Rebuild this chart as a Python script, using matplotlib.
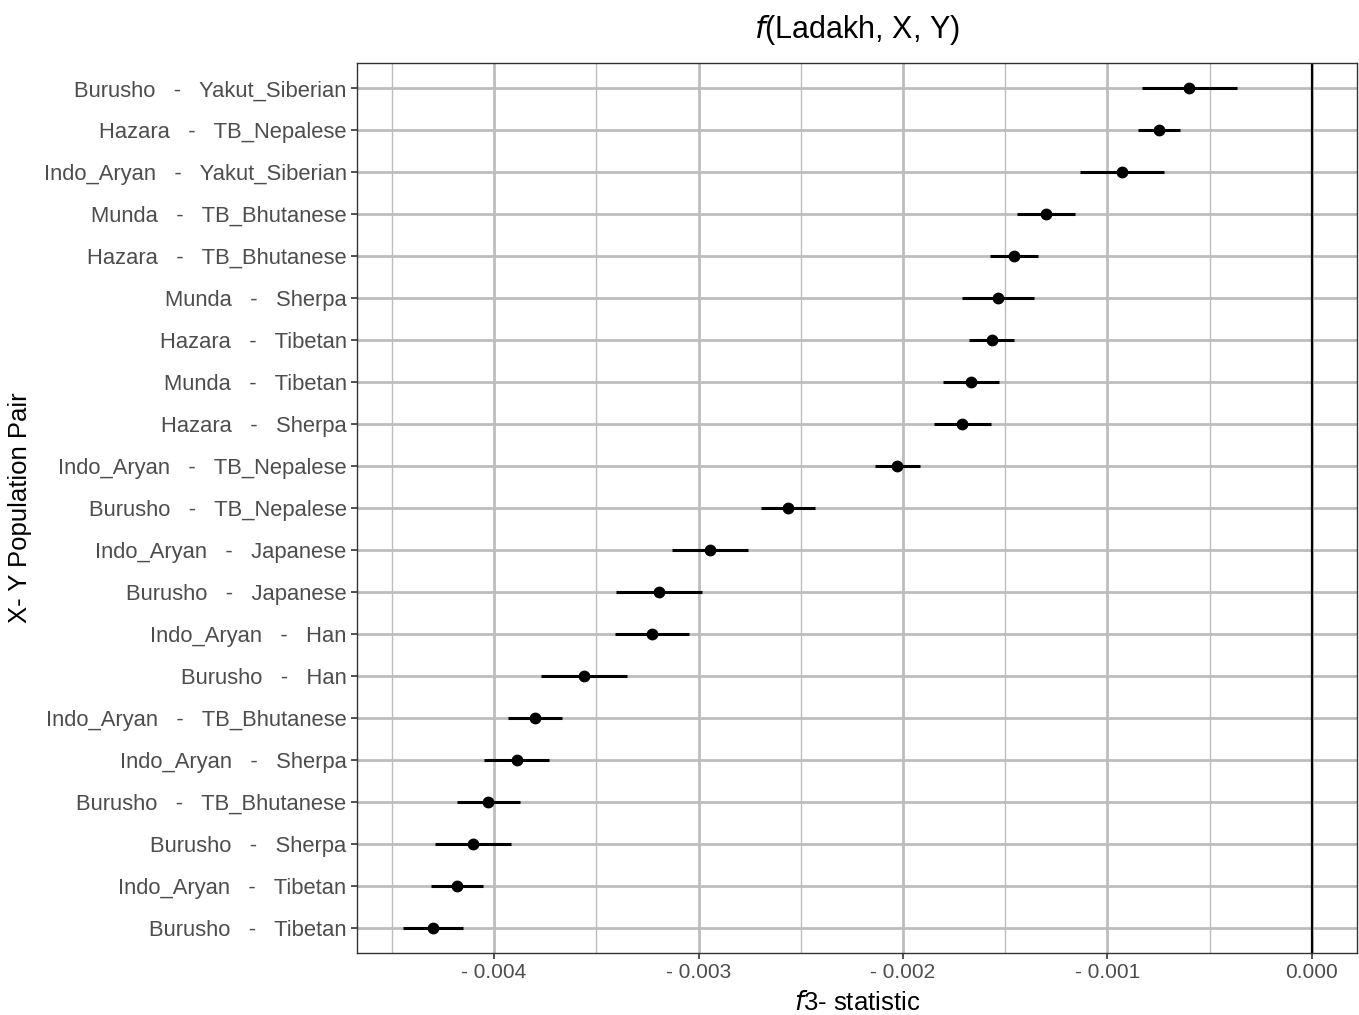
import matplotlib
matplotlib.use("Agg")
import matplotlib.pyplot as plt
import numpy as np

plt.rcParams['font.family'] = ['Liberation Sans', 'DejaVu Sans']

pop_x = ["Burusho", "Hazara", "Indo_Aryan", "Munda", "Hazara", "Munda", "Hazara",
         "Munda", "Hazara", "Indo_Aryan", "Burusho", "Indo_Aryan", "Burusho",
         "Indo_Aryan", "Burusho", "Indo_Aryan", "Indo_Aryan", "Burusho", "Burusho",
         "Indo_Aryan", "Burusho"]
pop_y = ["Yakut_Siberian", "TB_Nepalese", "Yakut_Siberian", "TB_Bhutanese", "TB_Bhutanese",
         "Sherpa", "Tibetan", "Tibetan", "Sherpa", "TB_Nepalese", "TB_Nepalese", "Japanese",
         "Japanese", "Han", "Han", "TB_Bhutanese", "Sherpa", "TB_Bhutanese", "Sherpa",
         "Tibetan", "Tibetan"]
f3_value = [-0.000601, -0.000748, -0.000929, -0.001301, -0.001457, -0.001535, -0.001565,
            -0.001667, -0.001711, -0.002029, -0.002562, -0.002944, -0.003193, -0.003227,
            -0.003560, -0.003800, -0.003888, -0.004029, -0.004103, -0.004181, -0.004298]
f3_err = [0.000232, 0.000103, 0.000203, 0.000140, 0.000118, 0.000176, 0.000110,
          0.000135, 0.000139, 0.000110, 0.000132, 0.000184, 0.000212, 0.000181,
          0.000208, 0.000133, 0.000159, 0.000154, 0.000184, 0.000127, 0.000147]
x_ticks = [-0.004, -0.003, -0.002, -0.001, 0.0]
x_tick_labels = ["- 0.004", "- 0.003", "- 0.002", "- 0.001", "0.000"]

labels = [f"{a}   -   {b}" for a, b in zip(pop_x, pop_y)]
n = len(labels)
ypos = np.arange(n)[::-1]  # first item at top

fig = plt.figure(figsize=(13.59, 10.15), dpi=100)
ax = fig.add_axes([0.2627, 0.0611, 0.7358, 0.8768])

ax.set_xlim(-0.00467, 0.00022)
ax.set_ylim(-0.6, n - 1 + 0.6)

# grid
grid_col = "#bdbdbd"
for xv in x_ticks:
    ax.axvline(xv, color=grid_col, lw=2.0, zorder=0)
for xv in [-0.0045, -0.0035, -0.0025, -0.0015, -0.0005]:
    ax.axvline(xv, color=grid_col, lw=1.0, zorder=0)
for yv in ypos:
    ax.axhline(yv, color=grid_col, lw=2.0, zorder=0)

ax.axvline(0, color="black", lw=1.6, zorder=1)

ax.errorbar(f3_value, ypos, xerr=f3_err, fmt="o", color="black", ms=7.5,
            elinewidth=2.2, capsize=0, zorder=3)

ax.set_yticks(ypos)
ax.set_yticklabels(labels, fontsize=15.8, color="#4d4d4d")
ax.set_xticks(x_ticks)
ax.set_xticklabels(x_tick_labels, fontsize=15, color="#4d4d4d")
ax.tick_params(axis="both", length=4, width=1.2, color="#333333")

for s in ax.spines.values():
    s.set_color("#333333")
    s.set_linewidth(1.0)

ax.set_xlabel(r"$\mathit{f}$3- statistic", fontsize=18.5, labelpad=6)
ax.set_ylabel("X- Y Population Pair", fontsize=18.5, labelpad=8)
ax.set_title(r"$\mathit{f}$(Ladakh, X, Y)", fontsize=22, pad=18)

fig.savefig("out.png", dpi=100)
